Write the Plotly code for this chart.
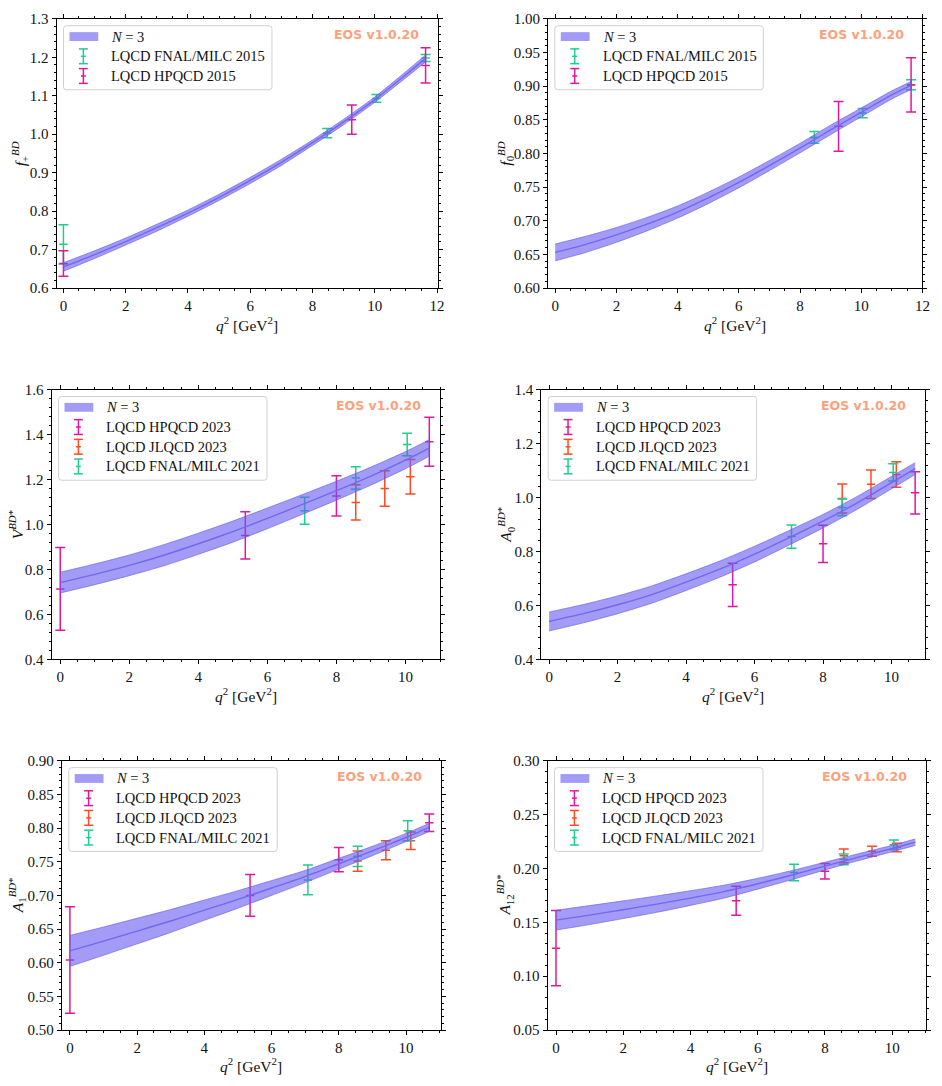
import numpy as np
import plotly.graph_objects as go

W, H = 942, 1086

# ---------------- data ----------------
# f_+^{BD}
fp_q2 = [0, 1, 2, 3, 4, 5, 6, 7, 8, 9, 10, 11, 11.63]
fp_c = [0.655, 0.687, 0.721, 0.757, 0.795, 0.836, 0.880, 0.927, 0.978, 1.032, 1.090, 1.155, 1.197]
fp_hw = [0.011, 0.010, 0.009, 0.009, 0.008, 0.008, 0.008, 0.008, 0.007, 0.007, 0.007, 0.008, 0.009]
fp_fnal_q2 = [0.0, 8.47, 10.05, 11.63]
fp_fnal_v = [0.714, 1.003, 1.093, 1.198]
fp_fnal_e = [0.051, 0.012, 0.010, 0.009]
fp_hpqcd_q2 = [0.0, 9.26, 11.63]
fp_hpqcd_v = [0.664, 1.038, 1.179]
fp_hpqcd_e = [0.033, 0.038, 0.046]

# f_0^{BD}
f0_q2 = [0, 1, 2, 3, 4, 5, 6, 7, 8, 9, 10, 11, 11.63]
f0_c = [0.653, 0.665, 0.679, 0.695, 0.713, 0.734, 0.757, 0.782, 0.808, 0.835, 0.861, 0.887, 0.901]
f0_hw = [0.0125, 0.012, 0.011, 0.010, 0.009, 0.0085, 0.008, 0.0075, 0.007, 0.007, 0.0065, 0.006, 0.006]
f0_fnal_q2 = [8.47, 10.05, 11.63]
f0_fnal_v = [0.8239, 0.8600, 0.9020]
f0_fnal_e = [0.0088, 0.0068, 0.0074]
f0_hpqcd_q2 = [9.26, 11.63]
f0_hpqcd_v = [0.8403, 0.9018]
f0_hpqcd_e = [0.0369, 0.0403]

# V^{BD*}
v_q2 = [0, 1, 2, 3, 4, 5, 6, 7, 8, 9, 10, 10.69]
v_c = [0.741, 0.778, 0.818, 0.863, 0.914, 0.968, 1.027, 1.088, 1.150, 1.215, 1.286, 1.340]
v_hw = [0.046, 0.046, 0.046, 0.047, 0.047, 0.047, 0.046, 0.044, 0.042, 0.040, 0.038, 0.037]
v_hpqcd_q2 = [0.0, 5.36, 8.0, 10.69]
v_hpqcd_v = [0.713, 0.951, 1.127, 1.368]
v_hpqcd_e = [0.184, 0.105, 0.090, 0.109]
v_jlqcd_q2 = [8.56, 9.40, 10.14]
v_jlqcd_v = [1.098, 1.160, 1.212]
v_jlqcd_e = [0.078, 0.079, 0.077]
v_fnal_q2 = [7.08, 8.56, 10.05]
v_fnal_v = [1.061, 1.207, 1.356]
v_fnal_e = [0.060, 0.050, 0.050]

# A_0^{BD*}
a0_q2 = [0, 1, 2, 3, 4, 5, 6, 7, 8, 9, 10, 10.69]
a0_c = [0.540, 0.569, 0.602, 0.640, 0.686, 0.735, 0.790, 0.850, 0.912, 0.980, 1.055, 1.107]
a0_hw = [0.035, 0.034, 0.033, 0.032, 0.031, 0.030, 0.029, 0.027, 0.025, 0.024, 0.023, 0.022]
a0_hpqcd_q2 = [5.36, 8.0, 10.69]
a0_hpqcd_v = [0.676, 0.828, 1.017]
a0_hpqcd_e = [0.080, 0.069, 0.078]
a0_jlqcd_q2 = [8.56, 9.40, 10.14]
a0_jlqcd_v = [0.996, 1.049, 1.085]
a0_jlqcd_e = [0.054, 0.053, 0.047]
a0_fnal_q2 = [7.08, 8.56, 10.05]
a0_fnal_v = [0.855, 0.963, 1.093]
a0_fnal_e = [0.043, 0.031, 0.032]

# A_1^{BD*}
a1_q2 = [0, 1, 2, 3, 4, 5, 6, 7, 8, 9, 10, 10.69]
a1_c = [0.6175, 0.632, 0.647, 0.662, 0.678, 0.694, 0.711, 0.728, 0.747, 0.766, 0.786, 0.801]
a1_hw = [0.023, 0.021, 0.019, 0.017, 0.015, 0.013, 0.011, 0.009, 0.008, 0.007, 0.006, 0.006]
a1_hpqcd_q2 = [0.0, 5.36, 8.0, 10.69]
a1_hpqcd_v = [0.604, 0.700, 0.753, 0.808]
a1_hpqcd_e = [0.079, 0.031, 0.018, 0.013]
a1_jlqcd_q2 = [8.56, 9.40, 10.14]
a1_jlqcd_v = [0.751, 0.767, 0.781]
a1_jlqcd_e = [0.015, 0.014, 0.013]
a1_fnal_q2 = [7.08, 8.56, 10.05]
a1_fnal_v = [0.723, 0.758, 0.796]
a1_fnal_e = [0.022, 0.015, 0.015]

# A_12^{BD*}
a12_q2 = [0, 1, 2, 3, 4, 5, 6, 7, 8, 9, 10, 10.69]
a12_c = [0.152, 0.1567, 0.1617, 0.1669, 0.1725, 0.1785, 0.1858, 0.1937, 0.2022, 0.2105, 0.2185, 0.2244]
a12_hw = [0.0092, 0.0088, 0.0082, 0.0076, 0.0068, 0.006, 0.005, 0.0042, 0.0036, 0.0032, 0.003, 0.003]
a12_hpqcd_q2 = [0.0, 5.36, 8.0]
a12_hpqcd_v = [0.126, 0.170, 0.1975]
a12_hpqcd_e = [0.035, 0.0135, 0.0072]
a12_jlqcd_q2 = [8.56, 9.40, 10.14]
a12_jlqcd_v = [0.2117, 0.216, 0.2195]
a12_jlqcd_e = [0.0063, 0.0046, 0.004]
a12_fnal_q2 = [7.08, 8.56, 10.05]
a12_fnal_v = [0.1962, 0.2085, 0.222]
a12_fnal_e = [0.0077, 0.005, 0.0043]

# ---------------- style ----------------
GREEN = "#22CC8E"
MAG = "#E0189E"
RED = "#FF4A22"
BAND_FILL = "rgba(100,90,240,0.6)"
BAND_EDGE = "rgba(110,96,238,0.85)"
BAND_LINE = "#7467EE"
SERIF = "Liberation Serif, Times New Roman, serif"
EOS_COL = "#FFA07A"

XT = "<i>q</i><sup>2</sup> [GeV<sup>2</sup>]"

panels = [
    dict(q2=fp_q2, c=fp_c, hw=fp_hw,
         series=[("LQCD FNAL/MILC 2015", GREEN, fp_fnal_q2, fp_fnal_v, fp_fnal_e),
                 ("LQCD HPQCD 2015", MAG, fp_hpqcd_q2, fp_hpqcd_v, fp_hpqcd_e)],
         box=(57, 441, 11, 284.3), xr=[-0.22, 12.02], yr=[0.6, 1.3], dy=0.1, mdy=0.02, fmt=".1f",
         ytitle="<i>f</i><sub>+</sub><sup><i>BD</i></sup>", ytx=21),
    dict(q2=f0_q2, c=f0_c, hw=f0_hw,
         series=[("LQCD FNAL/MILC 2015", GREEN, f0_fnal_q2, f0_fnal_v, f0_fnal_e),
                 ("LQCD HPQCD 2015", MAG, f0_hpqcd_q2, f0_hpqcd_v, f0_hpqcd_e)],
         box=(552, 929.3, 11, 284.3), xr=[-0.24, 12.0], yr=[0.6, 1.0], dy=0.05, mdy=0.01, fmt=".2f",
         ytitle="<i>f</i><sub>0</sub><sup><i>BD</i></sup>", ytx=510),
    dict(q2=v_q2, c=v_c, hw=v_hw,
         series=[("LQCD HPQCD 2023", MAG, v_hpqcd_q2, v_hpqcd_v, v_hpqcd_e),
                 ("LQCD JLQCD 2023", RED, v_jlqcd_q2, v_jlqcd_v, v_jlqcd_e),
                 ("LQCD FNAL/MILC 2021", GREEN, v_fnal_q2, v_fnal_v, v_fnal_e)],
         box=(52, 443.3, 387.3, 661), xr=[-0.25, 11.0], yr=[0.4, 1.6], dy=0.2, mdy=0.04, fmt=".1f",
         ytitle="<i>V</i><sup><i>BD</i>*</sup>", ytx=17),
    dict(q2=a0_q2, c=a0_c, hw=a0_hw,
         series=[("LQCD HPQCD 2023", MAG, a0_hpqcd_q2, a0_hpqcd_v, a0_hpqcd_e),
                 ("LQCD JLQCD 2023", RED, a0_jlqcd_q2, a0_jlqcd_v, a0_jlqcd_e),
                 ("LQCD FNAL/MILC 2021", GREEN, a0_fnal_q2, a0_fnal_v, a0_fnal_e)],
         box=(545.3, 932, 387.3, 661), xr=[-0.23, 10.98], yr=[0.4, 1.4], dy=0.2, mdy=0.04, fmt=".1f",
         ytitle="<i>A</i><sub>0</sub><sup><i>BD</i>*</sup>", ytx=510),
    dict(q2=a1_q2, c=a1_c, hw=a1_hw,
         series=[("LQCD HPQCD 2023", MAG, a1_hpqcd_q2, a1_hpqcd_v, a1_hpqcd_e),
                 ("LQCD JLQCD 2023", RED, a1_jlqcd_q2, a1_jlqcd_v, a1_jlqcd_e),
                 ("LQCD FNAL/MILC 2021", GREEN, a1_fnal_q2, a1_fnal_v, a1_fnal_e)],
         box=(62.3, 444.3, 764, 1037.3), xr=[-0.24, 11.04], yr=[0.5, 0.9], dy=0.05, mdy=0.01, fmt=".2f",
         ytitle="<i>A</i><sub>1</sub><sup><i>BD</i>*</sup>", ytx=18),
    dict(q2=a12_q2, c=a12_c, hw=a12_hw,
         series=[("LQCD HPQCD 2023", MAG, a12_hpqcd_q2, a12_hpqcd_v, a12_hpqcd_e),
                 ("LQCD JLQCD 2023", RED, a12_jlqcd_q2, a12_jlqcd_v, a12_jlqcd_e),
                 ("LQCD FNAL/MILC 2021", GREEN, a12_fnal_q2, a12_fnal_v, a12_fnal_e)],
         box=(551.7, 932.7, 764, 1037.3), xr=[-0.25, 11.0], yr=[0.05, 0.30], dy=0.05, mdy=0.01, fmt=".2f",
         ytitle="<i>A</i><sub>12</sub><sup><i>BD</i>*</sup>", ytx=509),
]


def PX(x):
    return x / W


def PY(y):
    return 1 - y / H


fig = go.Figure()
shapes = []
annotations = []
layout_axes = {}

for i, p in enumerate(panels, start=1):
    sfx = "" if i == 1 else str(i)
    xa, ya = "x" + sfx, "y" + sfx
    l, r, t, b = p["box"]

    # data points with error bars
    for name, col, xs, ys, es in p["series"]:
        fig.add_trace(go.Scatter(
            x=xs, y=ys, mode="markers", xaxis=xa, yaxis=ya, showlegend=False,
            marker=dict(symbol="line-ew", size=6, color=col, line=dict(color=col, width=1.5)),
            error_y=dict(type="data", array=es, color=col, thickness=1.5, width=5),
            hoverinfo="skip"))

    # band
    c = np.array(p["c"])
    hw = np.array(p["hw"])
    fig.add_trace(go.Scatter(x=p["q2"], y=c - hw, mode="lines", xaxis=xa, yaxis=ya,
                             line=dict(color=BAND_EDGE, width=0.8, shape="spline", smoothing=0.6),
                             showlegend=False, hoverinfo="skip"))
    fig.add_trace(go.Scatter(x=p["q2"], y=c + hw, mode="lines", xaxis=xa, yaxis=ya,
                             fill="tonexty", fillcolor=BAND_FILL,
                             line=dict(color=BAND_EDGE, width=0.8, shape="spline", smoothing=0.6),
                             showlegend=False, hoverinfo="skip"))
    fig.add_trace(go.Scatter(x=p["q2"], y=c, mode="lines", xaxis=xa, yaxis=ya,
                             line=dict(color=BAND_LINE, width=1.4, shape="spline", smoothing=0.6),
                             showlegend=False, hoverinfo="skip"))

    common = dict(showgrid=False, zeroline=False, showline=True, linecolor="black", linewidth=1,
                  mirror="ticks", ticks="outside", ticklen=4, tickwidth=1, tickcolor="black",
                  tickfont=dict(family=SERIF, size=15, color="#111"))
    layout_axes["xaxis" + sfx] = dict(
        common, domain=[PX(l), PX(r)], range=p["xr"], anchor=ya, tick0=0, dtick=2,
        minor=dict(ticks="outside", ticklen=2, tickwidth=1, tickcolor="black", tick0=0, dtick=0.5))
    layout_axes["yaxis" + sfx] = dict(
        common, domain=[PY(b), PY(t)], range=p["yr"], anchor=xa, tick0=p["yr"][0], dtick=p["dy"],
        tickformat=p["fmt"],
        minor=dict(ticks="outside", ticklen=2, tickwidth=1, tickcolor="black",
                   tick0=p["yr"][0], dtick=p["mdy"]))

    # axis titles
    annotations.append(dict(text=XT, x=PX((l + r) / 2), y=PY(b + 36), xref="paper", yref="paper",
                            showarrow=False, xanchor="center", yanchor="middle",
                            font=dict(family=SERIF, size=15.5, color="#111")))
    annotations.append(dict(text=p["ytitle"], x=PX(p["ytx"]), y=PY((t + b) / 2), xref="paper",
                            yref="paper", showarrow=False, textangle=-90, xanchor="center",
                            yanchor="middle", font=dict(family=SERIF, size=15.5, color="#111")))
    # EOS label
    annotations.append(dict(text="<b>EOS v1.0.20</b>", x=PX(r - 17), y=PY(t + 16), xref="paper",
                            yref="paper", showarrow=False, xanchor="right", yanchor="middle",
                            font=dict(family="DejaVu Sans, sans-serif", size=12.5, color=EOS_COL)))

    # legend (drawn manually to reproduce error-bar glyphs)
    n = 1 + len(p["series"])
    bl, bt = l + 7, t + 7
    bw, bh = 210, 25 + 20 * (n - 1)
    br, bb = bl + bw, bt + bh
    rr = 3
    path = (f"M {PX(bl + rr)},{PY(bt)} L {PX(br - rr)},{PY(bt)} Q {PX(br)},{PY(bt)} {PX(br)},{PY(bt + rr)} "
            f"L {PX(br)},{PY(bb - rr)} Q {PX(br)},{PY(bb)} {PX(br - rr)},{PY(bb)} "
            f"L {PX(bl + rr)},{PY(bb)} Q {PX(bl)},{PY(bb)} {PX(bl)},{PY(bb - rr)} "
            f"L {PX(bl)},{PY(bt + rr)} Q {PX(bl)},{PY(bt)} {PX(bl + rr)},{PY(bt)} Z")
    shapes.append(dict(type="path", path=path, xref="paper", yref="paper", layer="above",
                       fillcolor="rgba(255,255,255,0.85)", line=dict(color="#D0D0D0", width=1)))
    rows = [bt + 11 + 20 * k for k in range(n)]
    # band patch
    shapes.append(dict(type="rect", xref="paper", yref="paper", layer="above",
                       x0=PX(bl + 6), x1=PX(bl + 35), y0=PY(rows[0] + 4.5), y1=PY(rows[0] - 4.5),
                       fillcolor=BAND_FILL, line=dict(width=0)))
    annotations.append(dict(text="<i>N</i> = 3", x=PX(bl + 46), y=PY(rows[0]), xref="paper",
                            yref="paper", showarrow=False, xanchor="left", yanchor="middle",
                            font=dict(family=SERIF, size=14.5, color="#111")))
    for k, (name, col, _, _, _) in enumerate(p["series"], start=1):
        yc = rows[k]
        cx = bl + 20
        for (x0, y0, x1, y1) in [(cx, yc - 7.5, cx, yc + 7.5), (cx - 4.5, yc - 7.5, cx + 4.5, yc - 7.5),
                                 (cx - 4.5, yc + 7.5, cx + 4.5, yc + 7.5), (cx - 2.5, yc, cx + 2.5, yc)]:
            shapes.append(dict(type="line", xref="paper", yref="paper", layer="above",
                               x0=PX(x0), y0=PY(y0), x1=PX(x1), y1=PY(y1),
                               line=dict(color=col, width=1.5)))
        annotations.append(dict(text=name, x=PX(bl + 46), y=PY(yc), xref="paper", yref="paper",
                                showarrow=False, xanchor="left", yanchor="middle",
                                font=dict(family=SERIF, size=14.5, color="#111")))

fig.update_layout(
    width=W, height=H, margin=dict(l=0, r=0, t=0, b=0),
    paper_bgcolor="white", plot_bgcolor="white", showlegend=False,
    shapes=shapes, annotations=annotations, **layout_axes)

fig.write_html("out.html")
